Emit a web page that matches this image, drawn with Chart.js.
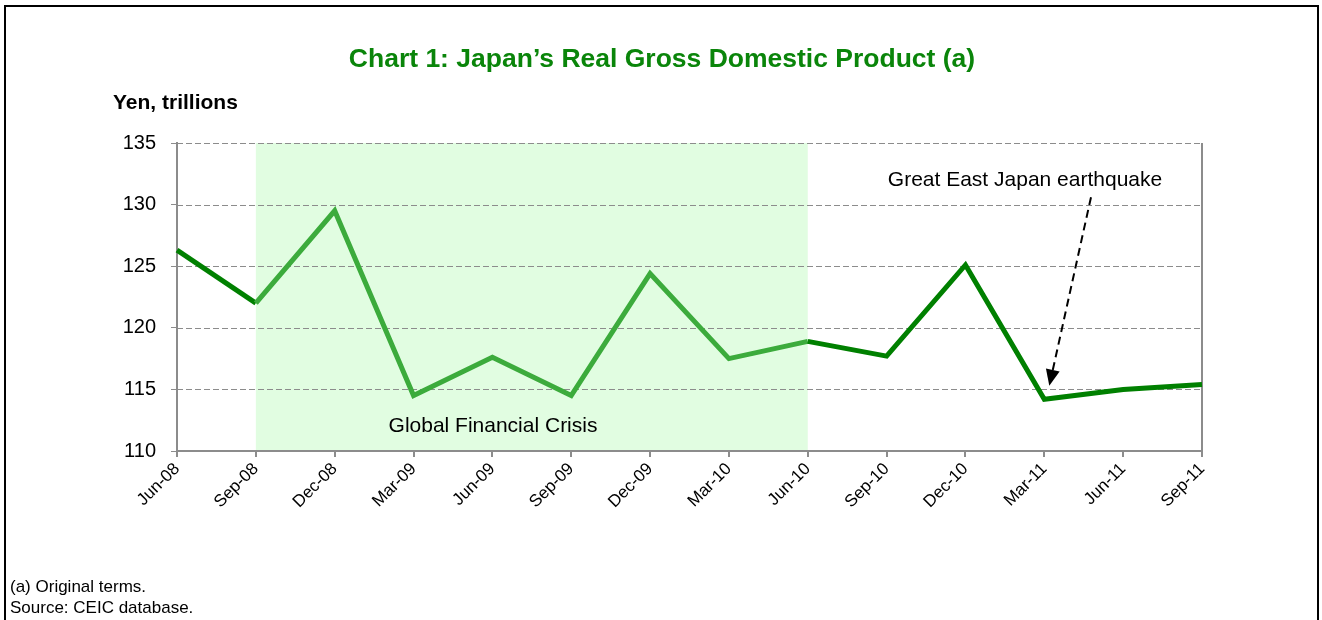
<!DOCTYPE html>
<html>
<head>
<meta charset="utf-8">
<script src="https://cdn.jsdelivr.net/npm/chart.js@4.4.1/dist/chart.umd.min.js"></script>
<style>
  html, body { margin: 0; padding: 0; background: #ffffff; }
  #wrap { position: relative; width: 1322px; height: 620px; }
  canvas { display: block; }
</style>
</head>
<body>
<div id="wrap"><canvas id="c" width="1322" height="620"></canvas></div>
<script>
const categories = ["Jun-08","Sep-08","Dec-08","Mar-09","Jun-09","Sep-09","Dec-09","Mar-10","Jun-10","Sep-10","Dec-10","Mar-11","Jun-11","Sep-11"];
const gdpValues = [126.3, 122.0, 129.5, 114.5, 117.6, 114.5, 124.4, 117.5, 118.9, 117.7, 125.1, 114.2, 115.0, 115.4];
const yTicks = [110, 115, 120, 125, 130, 135];
const crisisStart = "Sep-08";
const crisisEnd = "Jun-10";
const quakePoint = "Mar-11";

const titleText = "Chart 1: Japan\u2019s Real Gross Domestic Product (a)";
const yUnitText = "Yen, trillions";
const crisisLabel = "Global Financial Crisis";
const quakeLabel = "Great East Japan earthquake";
const footnotes = ["(a) Original terms.", "Source: CEIC database."];

const FONT = "'Liberation Sans', Arial, sans-serif";
const DARK = "#008000";
const LIGHT = "#3cab3c";

const iStart = categories.indexOf(crisisStart);
const iEnd = categories.indexOf(crisisEnd);

const decorPlugin = {
  id: "decor",
  beforeDatasetsDraw(chart) {
    const { ctx, chartArea, scales } = chart;
    const x = scales.x, y = scales.y;
    const x0 = x.getPixelForValue(iStart);
    const x1 = x.getPixelForValue(iEnd);
    ctx.save();
    ctx.fillStyle = "#e1fde1";
    ctx.fillRect(x0, chartArea.top, x1 - x0, chartArea.bottom - chartArea.top);
    ctx.strokeStyle = "#8c8c8c";
    ctx.lineWidth = 1;
    ctx.setLineDash([6, 3]);
    yTicks.forEach(v => {
      if (v === yTicks[0]) return;
      const py = Math.round(y.getPixelForValue(v)) + 0.5;
      ctx.beginPath();
      ctx.moveTo(chartArea.left, py);
      ctx.lineTo(chartArea.right, py);
      ctx.stroke();
    });
    ctx.setLineDash([]);
    ctx.strokeStyle = "#8c8c8c";
    ctx.lineWidth = 2;
    ctx.beginPath();
    ctx.moveTo(chartArea.right, chartArea.top);
    ctx.lineTo(chartArea.right, chartArea.bottom);
    ctx.stroke();
    ctx.beginPath();
    ctx.moveTo(chartArea.left, chartArea.top);
    ctx.lineTo(chartArea.left, chartArea.bottom);
    ctx.lineTo(chartArea.right, chartArea.bottom);
    ctx.stroke();
    ctx.restore();
  },
  afterDraw(chart) {
    const { ctx, chartArea, scales } = chart;
    const x = scales.x, y = scales.y;
    ctx.save();
    ctx.strokeStyle = "#000";
    ctx.lineWidth = 2;
    ctx.beginPath();
    ctx.moveTo(5, 620);
    ctx.lineTo(5, 6);
    ctx.lineTo(1318, 6);
    ctx.lineTo(1318, 620);
    ctx.stroke();
    ctx.fillStyle = "#0a850a";
    ctx.font = "bold 26.5px " + FONT;
    ctx.textAlign = "center";
    ctx.textBaseline = "middle";
    ctx.fillText(titleText, 662, 60);
    ctx.fillStyle = "#000";
    ctx.font = "bold 21px " + FONT;
    ctx.textAlign = "left";
    ctx.fillText(yUnitText, 113, 103);
    ctx.font = "21px " + FONT;
    ctx.textAlign = "center";
    ctx.fillText(crisisLabel, 493, y.getPixelForValue(112.0));
    ctx.fillText(quakeLabel, 1025, y.getPixelForValue(132.0));
    const iq = categories.indexOf(quakePoint);
    const tipX = x.getPixelForValue(iq) + 5;
    const tipY = y.getPixelForValue(115.3);
    const sx = 1091, sy = y.getPixelForValue(130.6);
    const ang = Math.atan2(tipY - sy, tipX - sx);
    const headLen = 16;
    const bx = tipX - headLen * Math.cos(ang), by = tipY - headLen * Math.sin(ang);
    ctx.strokeStyle = "#000";
    ctx.lineWidth = 2;
    ctx.setLineDash([8, 5]);
    ctx.beginPath();
    ctx.moveTo(sx, sy);
    ctx.lineTo(bx, by);
    ctx.stroke();
    ctx.setLineDash([]);
    ctx.fillStyle = "#000";
    ctx.beginPath();
    ctx.moveTo(tipX, tipY);
    ctx.lineTo(bx + 7 * Math.sin(ang), by - 7 * Math.cos(ang));
    ctx.lineTo(bx - 7 * Math.sin(ang), by + 7 * Math.cos(ang));
    ctx.closePath();
    ctx.fill();
    ctx.font = "17px " + FONT;
    ctx.textAlign = "left";
    ctx.textBaseline = "alphabetic";
    ctx.fillText(footnotes[0], 10, 592);
    ctx.fillText(footnotes[1], 10, 613);
    ctx.restore();
  }
};

new Chart(document.getElementById("c"), {
  type: "line",
  data: {
    labels: categories,
    datasets: [{
      data: gdpValues,
      borderColor: DARK,
      borderWidth: 5,
      pointRadius: 0,
      tension: 0,
      borderJoinStyle: "miter",
      segment: {
        borderColor: c => (c.p0DataIndex >= iStart && c.p1DataIndex <= iEnd) ? LIGHT : DARK
      }
    }]
  },
  options: {
    responsive: false,
    animation: false,
    events: [],
    layout: { padding: { top: 143, right: 120, left: 0, bottom: 0 } },
    plugins: { legend: { display: false }, tooltip: { enabled: false }, title: { display: false } },
    scales: {
      x: {
        type: "category",
        offset: false,
        afterFit: s => { s.height = 169; },
        grid: { drawOnChartArea: false, drawTicks: true, tickLength: 6, color: "#8c8c8c", lineWidth: 2 },
        border: { display: true, color: "#8c8c8c", width: 2 },
        ticks: {
          autoSkip: false, maxRotation: 45, minRotation: 45, padding: 2,
          color: "#000", font: { family: FONT, size: 17 }
        }
      },
      y: {
        min: 110, max: 135,
        afterFit: s => { s.width = 177; },
        afterBuildTicks: s => { s.ticks = yTicks.map(v => ({ value: v })); },
        grid: { drawOnChartArea: false, drawTicks: true, tickLength: 6, color: "#8c8c8c", lineWidth: 1 },
        border: { display: true, color: "#8c8c8c", width: 2 },
        ticks: { padding: 15, color: "#000", font: { family: FONT, size: 20 } }
      }
    }
  },
  plugins: [decorPlugin]
});
</script>
</body>
</html>
